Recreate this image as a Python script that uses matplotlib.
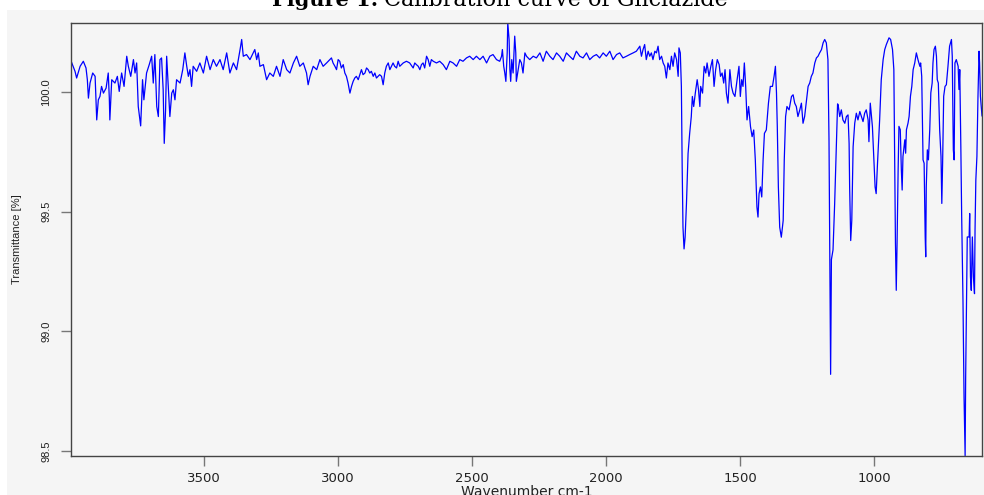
#!/usr/bin/env python3
"""
FTIR transmittance spectrum of gliclazide (4000 - 600 cm-1).
"""

import matplotlib
matplotlib.use('Agg')
import matplotlib.pyplot as plt
from matplotlib.patches import Rectangle

plt.rcParams.update({
    'font.family': ['DejaVu Sans'],
    'font.size': 9,
})

# Spectrum, high -> low wavenumber
wavenumber = [
    3997, 3995, 3982, 3976, 3963, 3951, 3941, 3936, 3932, 3926, 3916, 3907, 3901, 3895,
    3889, 3883, 3876, 3866, 3858, 3854, 3852, 3845, 3833, 3824, 3817, 3808, 3799, 3789,
    3783, 3774, 3764, 3758, 3752, 3746, 3737, 3730, 3725, 3715, 3705, 3696, 3690, 3684,
    3677, 3671, 3665, 3659, 3653, 3649, 3644, 3640, 3634, 3628, 3621, 3615, 3609, 3603,
    3590, 3580, 3572, 3565, 3559, 3553, 3547, 3541, 3528, 3516, 3503, 3491, 3478, 3466,
    3454, 3441, 3429, 3416, 3404, 3391, 3379, 3366, 3360, 3354, 3342, 3329, 3317, 3311,
    3304, 3298, 3292, 3279, 3267, 3255, 3242, 3230, 3217, 3205, 3192, 3180, 3167, 3155,
    3143, 3130, 3118, 3112, 3105, 3093, 3080, 3068, 3056, 3043,
    3031, 3025, 3019, 3012, 3006, 3000, 2994, 2988, 2981, 2975, 2969, 2963, 2956, 2950,
    2944, 2938, 2932, 2925, 2919, 2913, 2907, 2900, 2894, 2888, 2882, 2876, 2869, 2863,
    2857, 2845, 2838, 2832, 2826, 2820, 2813, 2807, 2801, 2795, 2789, 2782, 2776, 2770,
    2757, 2745, 2733, 2720, 2714, 2708, 2701, 2695, 2689, 2683, 2677, 2670, 2664, 2658,
    2652, 2645, 2633, 2621, 2608, 2596, 2583, 2571, 2558, 2546, 2534, 2521, 2509, 2496,
    2484, 2471, 2459, 2446, 2434, 2422, 2409, 2397, 2390, 2387, 2382, 2378, 2374, 2369,
    2367, 2364, 2362, 2359, 2356, 2352, 2347, 2341, 2337, 2335, 2328, 2322, 2316, 2310,
    2303, 2297, 2285, 2272, 2260, 2247, 2235, 2223, 2210, 2198, 2185, 2173, 2160, 2148,
    2136, 2123, 2111, 2098, 2086, 2073, 2061, 2048, 2036, 2024, 2011, 1999, 1986, 1974,
    1961, 1949, 1937, 1924, 1912, 1899, 1887, 1874, 1868, 1862, 1856, 1850, 1843,
    1837, 1831, 1825, 1818, 1812, 1806, 1800, 1793, 1787, 1781, 1775, 1769, 1762, 1756,
    1750, 1744, 1737, 1731, 1728, 1723, 1719, 1716, 1713, 1709, 1705, 1700, 1694, 1688,
    1682, 1678, 1673, 1667, 1660, 1655, 1650, 1647, 1640, 1634, 1628, 1623, 1616, 1609,
    1603, 1597, 1591, 1585, 1578, 1573, 1567, 1561, 1556, 1551, 1545, 1538, 1532, 1526,
    1519, 1511, 1504, 1499, 1494, 1489, 1484, 1479, 1474, 1468, 1461, 1455, 1449, 1443,
    1437, 1433, 1429, 1424, 1419, 1414, 1409, 1402, 1394, 1387, 1379, 1373, 1368, 1364,
    1361, 1357, 1352, 1346, 1339, 1335, 1330, 1325, 1317, 1308, 1302, 1296, 1290, 1284,
    1277, 1271, 1265, 1259, 1252, 1246, 1240, 1234, 1228, 1221, 1215, 1209, 1203, 1196,
    1190, 1184, 1178, 1172, 1168, 1165, 1162, 1159, 1153, 1147, 1141, 1136,
    1134, 1128, 1122, 1116, 1109, 1103, 1097, 1093, 1091, 1087, 1083, 1078, 1072, 1066,
    1060, 1053, 1047, 1041, 1035, 1029, 1022, 1019, 1014, 1006, 1000, 996, 992, 987,
    979, 973, 966, 960, 954, 944, 938, 931, 926, 924, 920, 917, 914, 910, 907, 902, 898,
    895, 892, 885, 882, 879, 873, 869, 864, 859, 854, 848, 842, 836, 829, 826, 822, 817,
    813, 809, 807, 805, 801, 797, 792, 788, 783, 780, 776, 771, 767, 764, 760, 755, 750,
    747, 744, 740, 735, 730, 724, 718, 711, 708, 704, 701, 698, 693, 686, 683, 680, 676,
    673, 668, 664, 660, 658, 654, 652, 645, 643, 640, 637, 633, 629, 625, 623, 620, 616,
    612, 608, 606, 603, 599, 597,
]

transmittance = [
    100.120, 100.124, 100.086, 100.058, 100.107, 100.128, 100.100, 100.051, 99.974, 100.037,
    100.079, 100.065, 99.883, 99.967, 99.981, 100.023, 99.995, 100.016, 100.079, 99.974,
    99.883, 100.051, 100.037, 100.065, 100.002, 100.079, 100.023, 100.149, 100.107, 100.065,
    100.135, 100.079, 100.121, 99.939, 99.858, 100.051, 99.967, 100.079, 100.114, 100.149,
    100.037, 100.156, 99.939, 99.897, 100.135, 100.142, 100.009, 99.785, 99.925, 100.149,
    100.023, 99.897, 99.995, 100.009, 99.967, 100.051, 100.037, 100.093, 100.163, 100.107,
    100.065, 100.093, 100.023, 100.107, 100.086, 100.121, 100.079, 100.149, 100.093, 100.135,
    100.107, 100.135, 100.093, 100.163, 100.079, 100.121, 100.093, 100.177, 100.219, 100.149,
    100.156, 100.135, 100.163, 100.177, 100.135, 100.163, 100.107, 100.114, 100.051, 100.079,
    100.065, 100.107, 100.065, 100.135, 100.093, 100.079, 100.121, 100.149, 100.107, 100.121,
    100.079, 100.030, 100.065, 100.107, 100.093, 100.135, 100.107, 100.121,
    100.135, 100.142, 100.121, 100.107, 100.093, 100.135, 100.128, 100.100, 100.114, 100.079,
    100.065, 100.037, 99.995, 100.023, 100.044, 100.058, 100.065, 100.051, 100.072, 100.093,
    100.072, 100.079, 100.100, 100.093, 100.079, 100.086, 100.065, 100.079, 100.058, 100.072,
    100.065, 100.030, 100.079, 100.107, 100.121, 100.093, 100.107, 100.121, 100.107, 100.100,
    100.128, 100.107, 100.121, 100.128, 100.121, 100.100, 100.121, 100.114, 100.107, 100.093,
    100.114, 100.121, 100.100, 100.149, 100.135, 100.107, 100.135, 100.128, 100.121, 100.128,
    100.114, 100.093, 100.128, 100.121, 100.107, 100.135, 100.128, 100.142, 100.149, 100.135,
    100.149, 100.135, 100.149, 100.121, 100.149, 100.156, 100.135, 100.128, 100.149, 100.177,
    100.107, 100.079, 100.044, 100.163, 100.290, 100.247, 100.219, 100.093, 100.044, 100.135,
    100.079, 100.233, 100.163, 100.044, 100.093, 100.135, 100.121, 100.079, 100.163, 100.149,
    100.135, 100.149, 100.142, 100.163, 100.128, 100.170, 100.149, 100.135, 100.163, 100.149,
    100.128, 100.163, 100.149, 100.135, 100.170, 100.149, 100.142, 100.163, 100.135, 100.149,
    100.156, 100.142, 100.163, 100.149, 100.170, 100.135, 100.156, 100.163, 100.142, 100.149,
    100.156, 100.163, 100.170, 100.191, 100.149, 100.177, 100.198, 100.135, 100.170,
    100.149, 100.163, 100.135, 100.170, 100.163, 100.191, 100.135, 100.149, 100.121, 100.107,
    100.058, 100.121, 100.093, 100.149, 100.107, 100.163, 100.135, 100.065, 100.184, 100.163,
    100.023, 99.687, 99.435, 99.344, 99.393, 99.533, 99.743, 99.827, 99.897, 99.981,
    99.939, 99.995, 100.051, 100.009, 99.939, 100.023, 99.995, 100.107, 100.079, 100.121,
    100.065, 100.107, 100.135, 100.023, 100.093, 100.135, 100.114, 100.065, 100.079, 100.037,
    100.093, 99.995, 99.953, 100.093, 100.023, 99.995, 99.981, 100.051, 100.107, 99.981,
    100.051, 100.023, 100.121, 100.023, 99.883, 99.939, 99.855, 99.813, 99.841, 99.715,
    99.519, 99.477, 99.575, 99.603, 99.561, 99.715, 99.827, 99.841, 99.953, 100.023,
    100.023, 100.065, 100.107, 99.995, 99.855, 99.603, 99.435, 99.393, 99.463, 99.715,
    99.897, 99.939, 99.925, 99.981, 99.988, 99.953, 99.939, 99.897, 99.925, 99.953,
    99.869, 99.897, 99.967, 100.023, 100.037, 100.065, 100.079, 100.121, 100.142, 100.149,
    100.163, 100.177, 100.205, 100.219, 100.205, 100.135, 99.799, 99.310, 98.820, 99.300,
    99.340, 99.530, 99.760, 99.950,
    99.946, 99.897, 99.925, 99.883, 99.869, 99.897, 99.904, 99.785, 99.603, 99.379,
    99.463, 99.771, 99.869, 99.911, 99.883, 99.918, 99.897, 99.876, 99.911, 99.925,
    99.883, 99.792, 99.953, 99.855, 99.701, 99.603, 99.575, 99.701,
    99.884, 100.051, 100.135, 100.177, 100.198, 100.226, 100.219, 100.177, 100.093, 99.856,
    99.367, 99.171, 99.367, 99.674, 99.856, 99.842, 99.674, 99.590, 99.730, 99.800,
    99.744, 99.842, 99.870, 99.898, 99.982, 100.023, 100.093, 100.121, 100.163, 100.135,
    100.107, 100.121, 100.065, 99.716, 99.702, 99.394, 99.311, 99.604, 99.758, 99.716,
    99.842, 99.996, 100.037, 100.121, 100.177, 100.191, 100.149, 100.051, 100.037, 99.842,
    99.730, 99.534, 99.702, 99.982, 100.023, 100.030, 100.107, 100.191, 100.219, 100.149,
    99.758, 99.716, 100.121, 100.135, 100.107, 100.010, 100.093, 99.772, 99.492, 99.129,
    98.724, 98.480, 98.808, 99.227, 99.394, 99.394, 99.492, 99.227, 99.171, 99.394,
    99.227, 99.157, 99.422, 99.632, 99.730, 99.982, 100.170, 100.121, 99.982, 99.926,
    99.900,
]

fig = plt.figure(figsize=(9.84, 4.95), dpi=100, facecolor='white')

# grey panel behind the plot (the page margin stays white)
fig.patches.append(Rectangle((7 / 984, 0), 1, 1 - 10 / 495, transform=fig.transFigure,
                             facecolor='#f5f5f5', edgecolor='none', zorder=-10))

# caption, clipped by the top of the page
fig.text(378 / 984, 1 - 6 / 495, 'Figure 1:', family='DejaVu Serif', fontsize=15,
         fontweight='bold', ha='right', va='baseline')
fig.text(728 / 984, 1 - 6 / 495, 'Calibration curve of Gliclazide', family='DejaVu Serif',
         fontsize=16, ha='right', va='baseline')

ax = fig.add_axes([71 / 984, 1 - 455.7 / 495, 911 / 984, (455.7 - 22.5) / 495])
ax.set_facecolor('#f5f5f5')

ax.plot(wavenumber, transmittance, color='#0000ff', linewidth=0.9)

ax.set_xlim(max(wavenumber), min(wavenumber))
ax.set_ylim(min(transmittance), max(transmittance))

ax.set_xticks([3500, 3000, 2500, 2000, 1500, 1000])
ax.set_yticks([98.5, 99.0, 99.5, 100.0])
ax.set_yticklabels(['98.5', '99.0', '99.5', '100.0'], rotation=90, va='center',
                   family='Liberation Sans', fontsize=8)
ax.tick_params(axis='both', direction='out', length=7, width=1, color='#777777',
               labelcolor='#222222')
ax.tick_params(axis='x', labelsize=9.5, pad=5)
ax.tick_params(axis='y', pad=7)

for sp in ax.spines.values():
    sp.set_color('#444444')
    sp.set_linewidth(1.0)

ax.set_ylabel('Transmittance [%]', family='Liberation Sans', fontsize=8,
              color='#222222', labelpad=14)
fig.text(526.5 / 984, 1 - 485 / 495, 'Wavenumber cm-1', fontsize=10, color='#222222',
         ha='center', va='top')

fig.savefig('out.png', dpi=100, facecolor=fig.get_facecolor())
